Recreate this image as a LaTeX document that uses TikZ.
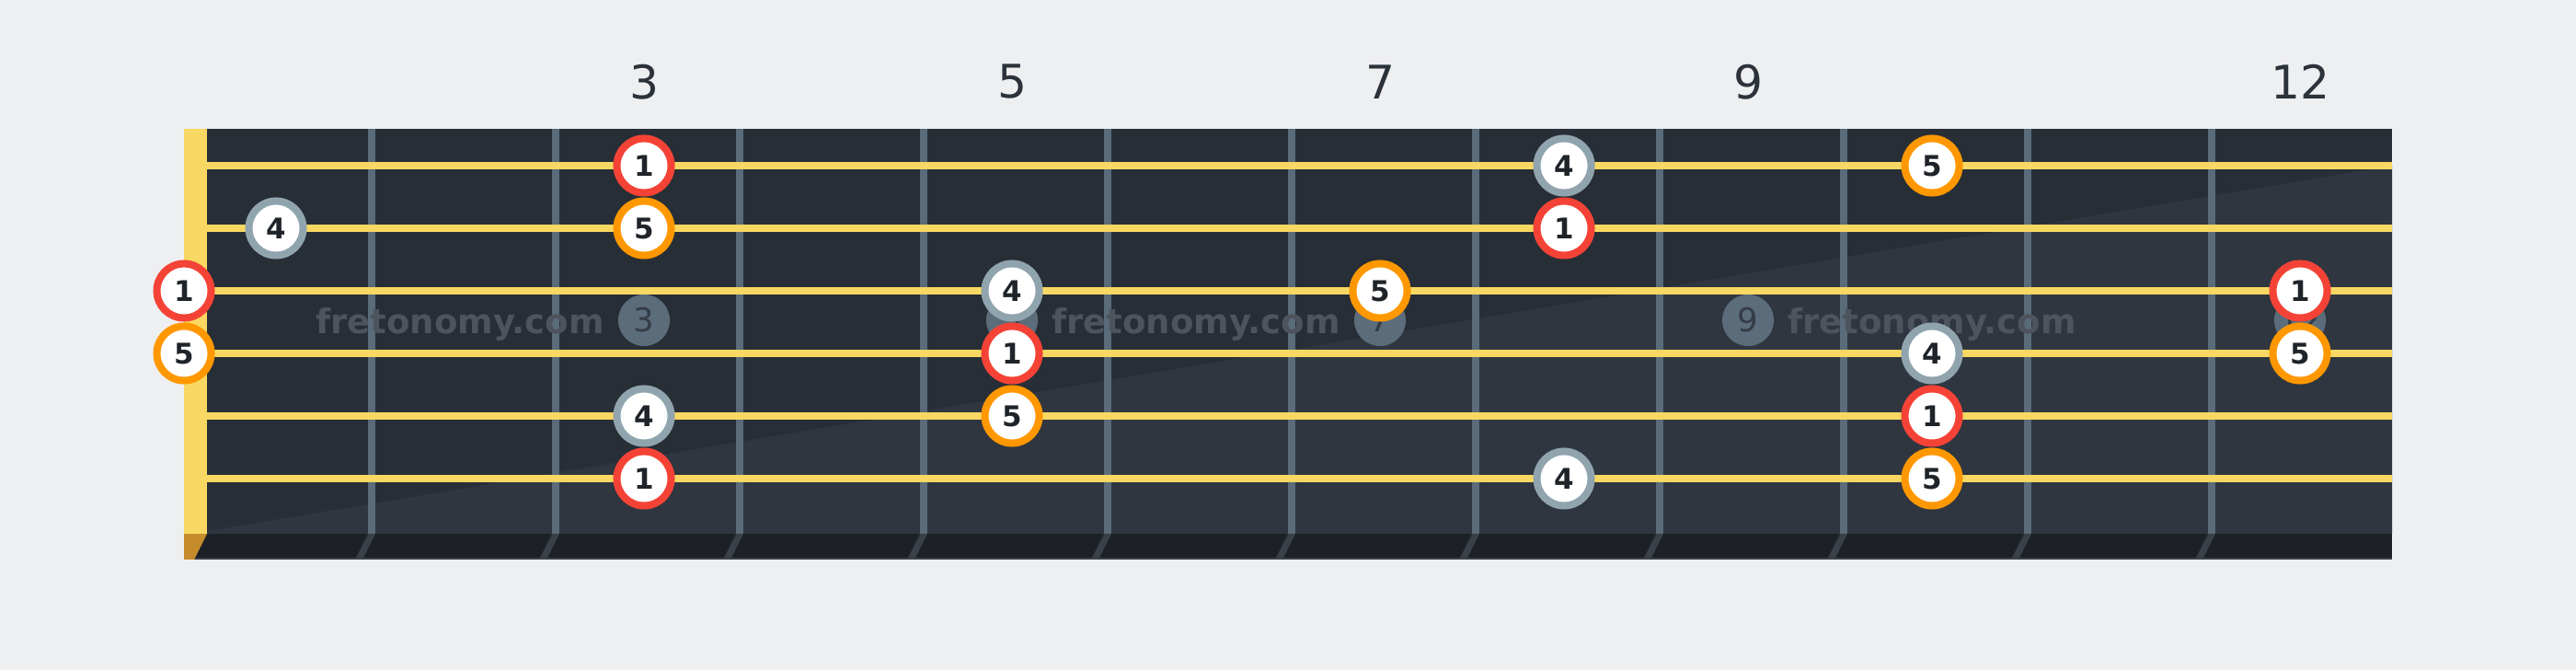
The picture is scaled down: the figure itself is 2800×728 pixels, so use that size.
\documentclass[tikz,border=0pt]{standalone}
\usepackage{fontspec}
\setmainfont{DejaVu Sans}
\definecolor{pagebg}{HTML}{EEEFF1}
\definecolor{boarddark}{HTML}{282E36}
\definecolor{boardlight}{HTML}{30363F}
\definecolor{boardedge}{HTML}{1D2126}
\definecolor{fretgrey}{HTML}{5A6B79}
\definecolor{stringgold}{HTML}{F8D862}
\definecolor{nutbrown}{HTML}{C68B2B}
\definecolor{fretshadow}{HTML}{3A4048}
\definecolor{rootred}{HTML}{F44336}
\definecolor{fifthorange}{HTML}{FF9800}
\definecolor{fourthgrey}{HTML}{90A4AE}
\definecolor{notetext}{HTML}{1F242A}
\definecolor{labeltext}{HTML}{2B323A}
\definecolor{dotfill}{HTML}{5B6D7B}
\definecolor{dottext}{HTML}{343C46}
\definecolor{watermark}{HTML}{4E545D}

\tikzset{
  note/.style={circle,draw=#1,fill=white,line width=0.08cm,minimum size=0.59cm,inner sep=0pt,
    text=notetext,font=\fontsize{8.8}{10}\selectfont\bfseries},
  fretnum/.style={text=labeltext,inner sep=0pt,font=\fontsize{14.3}{16}\selectfont},
  inlay/.style={circle,fill=dotfill,minimum size=0.56cm,inner sep=0pt,text=dottext,
    font=\fontsize{10.1}{12}\selectfont},
  brand/.style={text=watermark,inner sep=0pt,anchor=base,font=\fontsize{10.5}{12}\selectfont\bfseries},
  fretwire/.style={fretgrey,line width=0.08cm},
  gstring/.style={stringgold,line width=0.08cm}
}

\begin{document}
\begin{tikzpicture}[x=0.01cm,y=-0.01cm]
    \useasboundingbox (0,0) rectangle (2800,728);
    \fill[pagebg] (0,0) rectangle (2800,728);
    \fill[boarddark] (200,140) rectangle (2600,580);
    \fill[boardlight] (225,577) -- (2600,180) -- (2600,580) -- (225,580) -- cycle;
    \fill[boardedge] (200,580) rectangle (2600,608);
    \draw[fretshadow,line width=0.02cm] (211,607) -- (2600,607);
    \foreach \k in {1,...,11} {
      \draw[fretwire] ({200*\k+204},140) -- ({200*\k+204},580);
      \fill[fretshadow] ({200*\k+200},580) -- ({200*\k+208},580) -- ({200*\k+194},608) -- ({200*\k+186},608) -- cycle;
    }
    \fill[nutbrown] (200,580) -- (225,580) -- (211,608) -- (200,608) -- cycle;
    \foreach \x/\n in {700/3,1100/5,1500/7,1900/9,2500/12} {
      \node[fretnum] (lab\n) at (\x,89) {\n};
      \node[inlay] (dot\n) at (\x,348) {\n};
    }
    \node[brand] (brand1) at (500,363) {fretonomy.com};
    \node[brand] (brand2) at (1300,363) {fretonomy.com};
    \node[brand] (brand3) at (2100,363) {fretonomy.com};
    \foreach \y [count=\i] in {180,248,316,384,452,520}
      \draw[gstring] (225,\y) -- (2600,\y);
    \fill[stringgold] (200,140) rectangle (225,580);
    \foreach \x/\y/\d/\c [count=\k] in {
        700/180/1/rootred, 1700/180/4/fourthgrey, 2100/180/5/fifthorange,
        300/248/4/fourthgrey, 700/248/5/fifthorange, 1700/248/1/rootred,
        200/316/1/rootred, 1100/316/4/fourthgrey, 1500/316/5/fifthorange, 2500/316/1/rootred,
        200/384/5/fifthorange, 1100/384/1/rootred, 2100/384/4/fourthgrey, 2500/384/5/fifthorange,
        700/452/4/fourthgrey, 1100/452/5/fifthorange, 2100/452/1/rootred,
        700/520/1/rootred, 1700/520/4/fourthgrey, 2100/520/5/fifthorange}
      \node[note=\c] (note\k) at (\x,\y) {\d};
\end{tikzpicture}
\end{document}
